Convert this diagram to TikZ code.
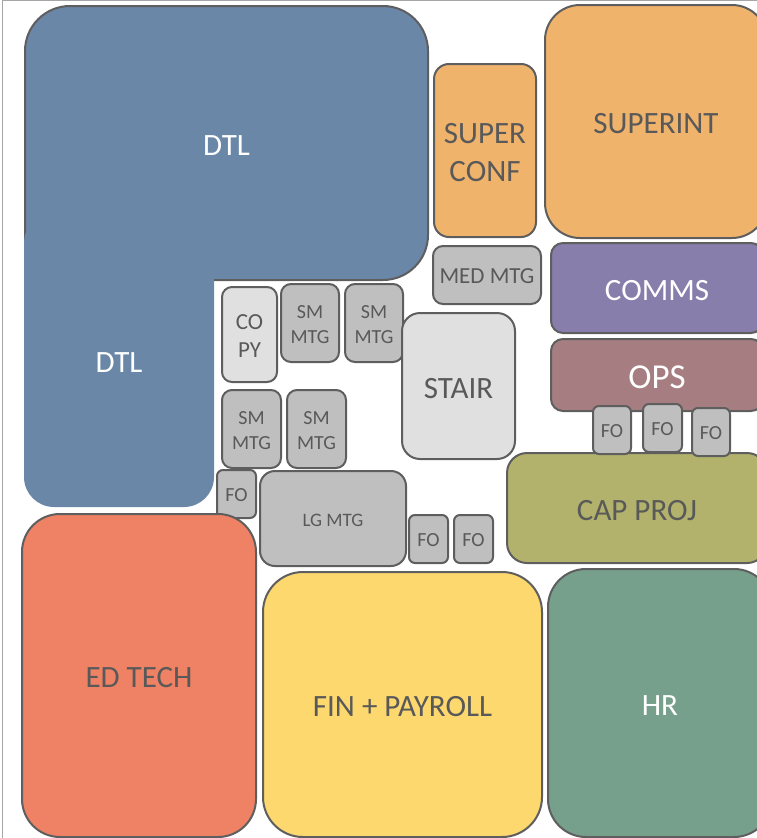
\documentclass[tikz,border=0pt]{standalone}
\usepackage{fontspec}
\setmainfont{Carlito}
\definecolor{edge}{HTML}{5E5E5E}
\definecolor{txt}{HTML}{595959}
\definecolor{dtlblue}{HTML}{6A87A8}
\definecolor{supor}{HTML}{F0B36C}
\definecolor{commsc}{HTML}{877EAB}
\definecolor{opsc}{HTML}{A67D80}
\definecolor{capc}{HTML}{B2B26C}
\definecolor{edc}{HTML}{EF8265}
\definecolor{finc}{HTML}{FDD86E}
\definecolor{hrc}{HTML}{769F8C}
\definecolor{mtgc}{HTML}{BFBFBF}
\definecolor{lightc}{HTML}{E0E0E0}
\definecolor{framec}{HTML}{A6A6A6}
\begin{document}
\begin{tikzpicture}[x=1pt,y=-1pt,
  room/.style={draw=edge, line width=2pt, inner sep=0pt},
  lab/.style={inner sep=0pt, align=center, text=txt},
  huge/.style={font=\fontsize{35}{42}\selectfont},
  big/.style={font=\fontsize{31}{38}\selectfont},
  mid/.style={font=\fontsize{23}{28}\selectfont},
  small/.style={font=\fontsize{20}{25}\selectfont},
  tiny/.style={font=\fontsize{19}{23}\selectfont},
  L/.style={label={[lab, big, yshift=-2.5pt]center:{#1}}},
  LW/.style={label={[lab, big, text=white, yshift=-2.5pt]center:{#1}}},
  HW/.style={label={[lab, huge, text=white, yshift=-2.5pt]center:{#1}}},
  M/.style={label={[lab, mid, yshift=-1.5pt]center:{#1}}},
  S/.style={label={[lab, small, yshift=-1.5pt]center:{#1}}},
  T/.style={label={[lab, tiny, yshift=-1.5pt]center:{#1}}},
  sz/.style 2 args={minimum width=#1pt, minimum height=#2pt}]
\useasboundingbox (0,0) rectangle (757,838);
\begin{scope}
\clip (0,0) rectangle (757,838);
% district team leaders: an L-shaped block made of two rounded areas
\node[room, fill=dtlblue, sz={403}{274}, rounded corners=45pt, LW={DTL}] (dtlA) at (226.5,143) {};
\node[inner sep=0pt, fill=dtlblue, sz={190}{294}, rounded corners=30pt, LW={DTL}] (dtlB) at (119,360) {};
% superintendent suite
\node[room, fill=supor, sz={102}{173}, rounded corners=15pt, L={SUPER\\CONF}] (supconf) at (485,150.5) {};
\node[room, fill=supor, sz={222}{233}, rounded corners=35pt, L={SUPERINT}] (supint) at (656,121.5) {};
\node[room, fill=mtgc, sz={108}{58}, rounded corners=10pt, M={MED MTG}] (medmtg) at (487,275) {};
\node[room, fill=commsc, sz={212}{90}, rounded corners=12pt, LW={COMMS}] (comms) at (657,288) {};
\node[room, fill=opsc, sz={212}{72}, rounded corners=12pt, HW={OPS}] (ops) at (657,375) {};
\node[room, fill=capc, sz={260}{110}, rounded corners=20pt, L={CAP PROJ}] (cap) at (637,508) {};
\node[room, fill=mtgc, sz={38}{48}, rounded corners=6pt, S={FO}] (foA) at (612,430) {};
\node[room, fill=mtgc, sz={39}{48}, rounded corners=6pt, S={FO}] (foB) at (662.5,428) {};
\node[room, fill=mtgc, sz={38}{48}, rounded corners=6pt, S={FO}] (foC) at (711,432) {};
% central meeting rooms
\node[room, fill=lightc, sz={55}{95}, rounded corners=10pt, M={CO\\PY}] (copy) at (249.5,334.5) {};
\node[room, fill=mtgc, sz={58}{78}, rounded corners=10pt, S={SM\\MTG}] (smA) at (310,323) {};
\node[room, fill=mtgc, sz={58}{78}, rounded corners=10pt, S={SM\\MTG}] (smB) at (374,323) {};
\node[room, fill=lightc, sz={113}{146}, rounded corners=18pt, L={STAIR}] (stair) at (458.5,386) {};
\node[room, fill=mtgc, sz={59}{78}, rounded corners=10pt, S={SM\\MTG}] (smC) at (251.5,429) {};
\node[room, fill=mtgc, sz={59}{78}, rounded corners=10pt, S={SM\\MTG}] (smD) at (316.5,429) {};
\node[room, fill=mtgc, sz={39}{48}, rounded corners=6pt, S={FO}] (foD) at (236.5,494) {};
\node[room, fill=mtgc, sz={146}{95}, rounded corners=15pt, T={LG MTG}] (lgmtg) at (333,518.5) {};
\node[room, fill=mtgc, sz={39}{48}, rounded corners=6pt, S={FO}] (foE) at (428.5,539) {};
\node[room, fill=mtgc, sz={39}{48}, rounded corners=6pt, S={FO}] (foF) at (473.5,539) {};
% lower departments
\node[room, fill=edc, sz={234}{323}, rounded corners=38pt, L={ED TECH}] (edtech) at (139,675.5) {};
\node[room, fill=finc, sz={279}{265}, rounded corners=40pt, L={FIN + PAYROLL}] (fin) at (402.5,704.5) {};
\node[room, fill=hrc, sz={224}{268}, rounded corners=38pt, LW={HR}] (hr) at (660,703) {};
\end{scope}
% page frame
\draw[framec, line width=1pt] (2,838) -- (2,0.5) -- (757,0.5);
\end{tikzpicture}
\end{document}
